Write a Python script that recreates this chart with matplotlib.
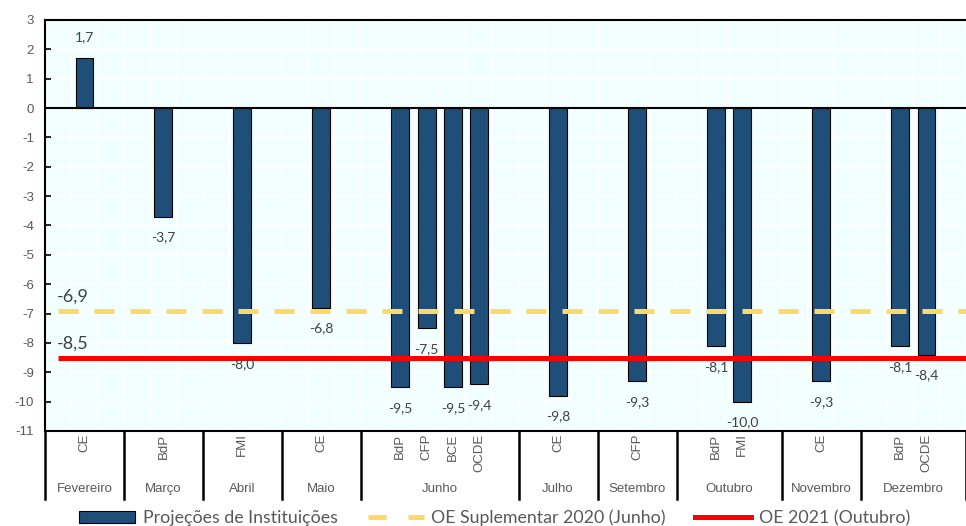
import numpy as np
import matplotlib
matplotlib.use("Agg")
import matplotlib.pyplot as plt
from matplotlib.patches import Patch
from matplotlib.lines import Line2D

months = ['Fevereiro', 'Março', 'Abril', 'Maio', 'Junho', 'Julho',
          'Setembro', 'Outubro', 'Novembro', 'Dezembro']
month_slots = [3, 3, 3, 3, 6, 3, 3, 4, 3, 4]
institutions = [['CE'], ['BdP'], ['FMI'], ['CE'], ['BdP', 'CFP', 'BCE', 'OCDE'],
                ['CE'], ['CFP'], ['BdP', 'FMI'], ['CE'], ['BdP', 'OCDE']]
projections = [[1.7], [-3.7], [-8.0], [-6.8], [-9.5, -7.5, -9.5, -9.4],
               [-9.8], [-9.3], [-8.1, -10.0], [-9.3], [-8.1, -8.4]]
oe_suplementar = -6.9
oe_2021 = -8.5

matplotlib.rcParams['axes.unicode_minus'] = False
grey = '#595959'
dark = '#404040'

fig = plt.figure(figsize=(9.66, 5.26), dpi=100)
ax = fig.add_axes([45 / 966, 1 - 431 / 526, 1 - 45 / 966, (431 - 20) / 526])
ax.set_facecolor('#F2FFFF')

# bar positions: each month starts with one empty slot
starts = np.concatenate([[0], np.cumsum(month_slots)[:-1]])
xs, vals, names = [], [], []
for s, inst, v in zip(starts, institutions, projections):
    for i in range(len(inst)):
        xs.append(s + 1.5 + i)
        vals.append(v[i])
        names.append(inst[i])
total = sum(month_slots)

ax.bar(xs, vals, width=0.68, color='#1F4E79', edgecolor='black', linewidth=0.8, zorder=3)

for x, v in zip(xs, vals):
    off = 15 if v > 0 else -15
    ax.annotate(('%.1f' % v).replace('.', ','), xy=(x, v), xytext=(0, off),
                textcoords='offset points', ha='center', va='center',
                fontsize=10, color=dark, family='Lato', zorder=5)

ax.hlines(oe_suplementar, 0.5, total, color='#FFD966', lw=3.6,
          linestyle=(0, (4, 3.2)), zorder=4)
ax.hlines(oe_2021, 0.5, total, color='#FF0000', lw=3.6, zorder=4)
for v in (oe_suplementar, oe_2021):
    ax.annotate(('%.1f' % v).replace('.', ','), xy=(0.45, v), xytext=(0, 4),
                textcoords='offset points', ha='left', va='bottom',
                fontsize=13, color=dark, family='Lato', zorder=5)

ax.axhline(0, color='black', lw=1.5, zorder=3.5)

ax.set_xlim(0, 34.5)
ax.set_ylim(-11, 3)
ax.set_yticks(range(-11, 4))
ax.set_xticks(range(0, total + 1))
ax.set_xticklabels([])
ax.tick_params(axis='x', length=0)
ax.tick_params(axis='y', direction='in', length=4, width=1.2, labelsize=9.5,
               labelcolor=grey, pad=8)
for lab in ax.get_yticklabels():
    lab.set_family('Liberation Sans')
ax.grid(True, color='white', lw=1.2, zorder=0)
ax.set_axisbelow(True)
for sp in ['left', 'top', 'bottom']:
    ax.spines[sp].set_linewidth(1.5)
ax.spines['right'].set_visible(False)

# two-level category axis
trans = ax.get_xaxis_transform()
for b in np.concatenate([starts, [total]]):
    ax.plot([b, b], [0, -0.165], color='black', lw=1.8, transform=trans, clip_on=False)
for x, n in zip(xs, names):
    ax.text(x, -0.006, n, rotation=90, ha='center', va='top', transform=trans,
            fontsize=9.5, color=grey, family='Liberation Sans')
for s, n, m in zip(starts, month_slots, months):
    ax.text(s + n / 2, -0.14, m, ha='center', va='center', transform=trans,
            fontsize=9.5, color=grey, family='Liberation Sans')

handles = [Patch(facecolor='#1F4E79', edgecolor='black', linewidth=0.8),
           Line2D([], [], color='#FFD966', lw=3.6, linestyle=(0, (3.6, 4.4))),
           Line2D([], [], color='#FF0000', lw=3.6)]
labels = ['Projeções de Instituições', 'OE Suplementar 2020 (Junho)', 'OE 2021 (Outubro)']
leg = fig.legend(handles, labels, loc='center', bbox_to_anchor=(0.512, 1 - 518 / 526),
                 ncol=3, frameon=False, handlelength=3.15, handletextpad=0.4,
                 columnspacing=1.7, prop={'family': 'Lato', 'size': 12.8})
for t in leg.get_texts():
    t.set_color(grey)

plt.savefig('out.png', dpi=100)
